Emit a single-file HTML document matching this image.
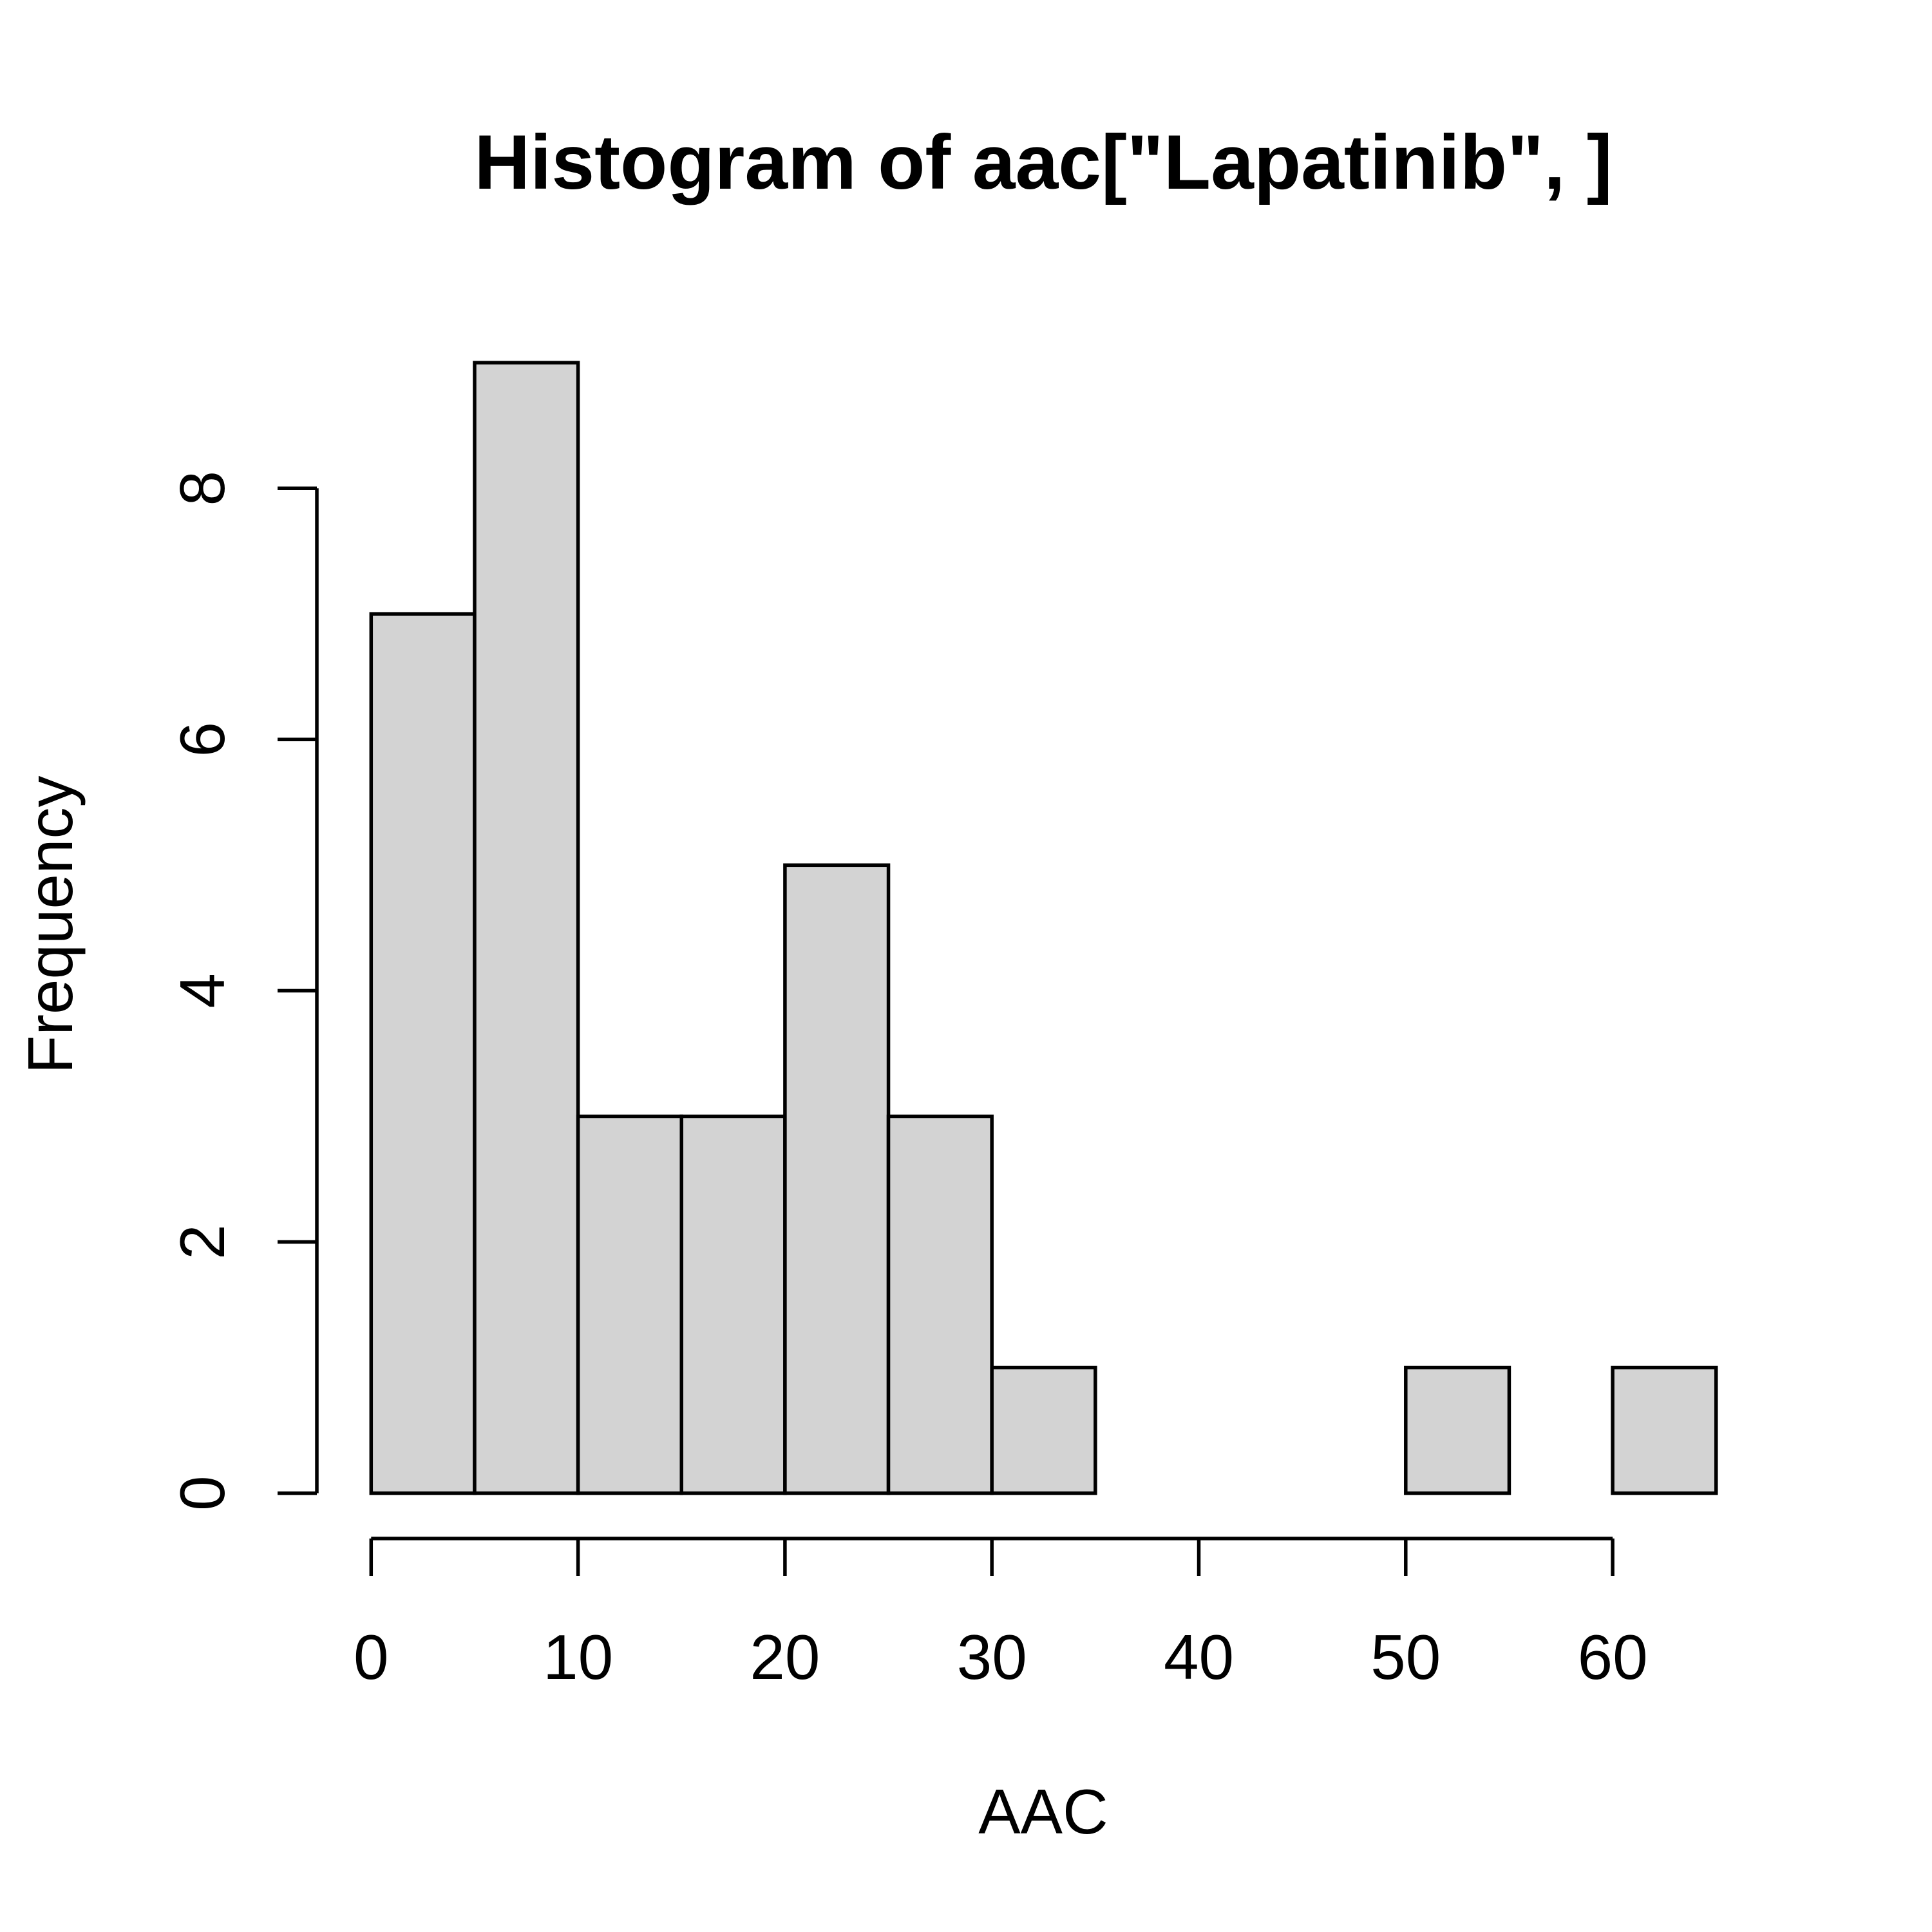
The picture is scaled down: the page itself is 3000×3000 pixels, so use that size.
<!DOCTYPE html>
<html><head><meta charset="utf-8"><style>
html,body{margin:0;padding:0;background:#fff}
svg{display:block}
text{font-family:"Liberation Sans",Arial,sans-serif;fill:#000}
</style></head><body>
<svg id="chart" width="3000" height="3000" viewBox="0 0 3000 3000" xmlns="http://www.w3.org/2000/svg">
<rect width="3000" height="3000" fill="#fff"/>
<text x="1620" y="293" font-size="120" font-weight="bold" text-anchor="middle">Histogram of aac["Lapatinib", ]</text>
<text x="1620" y="2847" font-size="98" text-anchor="middle">AAC</text>
<text transform="translate(112,1436) rotate(-90)" font-size="98" text-anchor="middle">Frequency</text>
<g id="bars"></g>
<g id="axes"></g>
</svg>
<script>
const binStarts = [0,5,10,15,20,25,30,35,40,45,50,55,60];
const counts = [7,9,3,3,5,3,1,0,0,0,1,0,1];
const binWidth = 5;
const xTicks = [0,10,20,30,40,50,60];
const yTicks = [0,2,4,6,8];

const NS = "http://www.w3.org/2000/svg";
const xs = v => 576.3 + v * 32.13;
const ys = v => 2318.6 - v * 195.05;
const SW = 5.5;
const bars = document.getElementById('bars');
const axes = document.getElementById('axes');
function mk(tag, attrs, parent){const e=document.createElementNS(NS,tag);for(const k in attrs)e.setAttribute(k,attrs[k]);parent.appendChild(e);return e;}

binStarts.forEach((b,i)=>{
  const c = counts[i];
  const r = mk('rect',{x:xs(b),y:ys(c),width:xs(b+binWidth)-xs(b),height:ys(0)-ys(c),fill:'#d3d3d3',stroke:'#000','stroke-width':SW},bars);
  
  
});

const xl = mk('line',{x1:xs(xTicks[0]),x2:xs(xTicks[xTicks.length-1]),y1:2389,y2:2389,stroke:'#000','stroke-width':SW},axes);


xTicks.forEach(t=>{
  const l = mk('line',{x1:xs(t),x2:xs(t),y1:2389,y2:2447,stroke:'#000','stroke-width':SW},axes);
  
  
  const tx = mk('text',{x:xs(t),y:2607,'font-size':98,'text-anchor':'middle'},axes);
  tx.textContent = t;
  
  
});
const yl = mk('line',{x1:492,x2:492,y1:ys(yTicks[0]),y2:ys(yTicks[yTicks.length-1]),stroke:'#000','stroke-width':SW},axes);


yTicks.forEach(t=>{
  const l = mk('line',{x1:431,x2:492,y1:ys(t),y2:ys(t),stroke:'#000','stroke-width':SW},axes);
  
  
  const tx = mk('text',{transform:'translate(348,'+ys(t)+') rotate(-90)','font-size':98,'text-anchor':'middle'},axes);
  tx.textContent = t;
  
  
});
</script>
</body></html>
